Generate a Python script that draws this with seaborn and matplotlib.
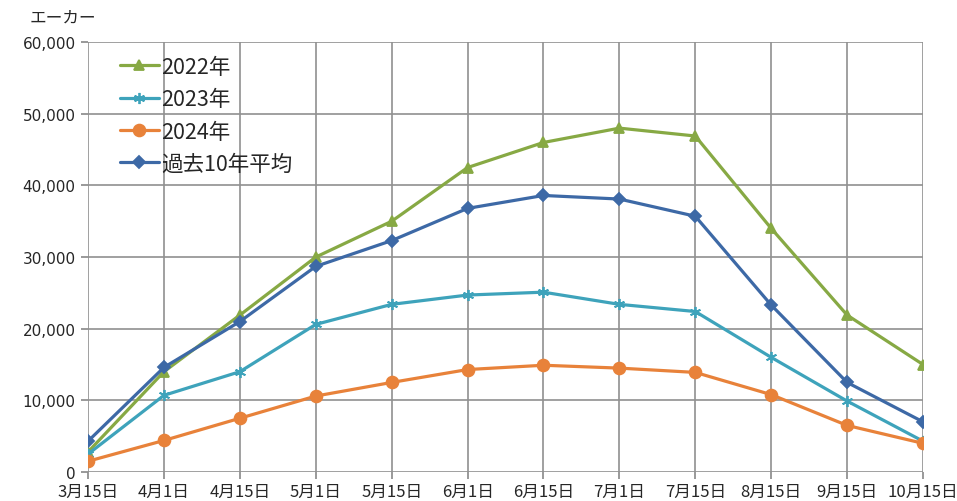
import matplotlib
matplotlib.use("Agg")
import matplotlib.pyplot as plt
import seaborn as sns
import pandas as pd
from matplotlib.ticker import FuncFormatter

dates = ["3月15日", "4月1日", "4月15日", "5月1日", "5月15日", "6月1日",
         "6月15日", "7月1日", "7月15日", "8月15日", "9月15日", "10月15日"]
series_names = ["2022年", "2023年", "2024年", "過去10年平均"]
v2022 = [2800, 14000, 21900, 30000, 35000, 42500, 46000, 48000, 46900, 34000, 21900, 15000]
v2023 = [2500, 10700, 14000, 20600, 23400, 24700, 25100, 23400, 22400, 16000, 9900, 4300]
v2024 = [1500, 4400, 7500, 10600, 12500, 14300, 14900, 14500, 13900, 10800, 6500, 4000]
vavg = [4300, 14600, 21000, 28700, 32300, 36800, 38600, 38100, 35700, 23300, 12500, 7000]
y_ticks = [0, 10000, 20000, 30000, 40000, 50000, 60000]
y_unit = "エーカー"

sns.set_theme(style="white")
plt.rcParams['font.family'] = ['Noto Sans CJK JP', 'DejaVu Sans']

rows = []
for name, vals in zip(series_names, [v2022, v2023, v2024, vavg]):
    for i, v in enumerate(vals):
        rows.append({"pos": i, "value": v, "series": name})
df = pd.DataFrame(rows)

palette = {"2022年": "#87a944", "2023年": "#3ea3bb", "2024年": "#e8823a", "過去10年平均": "#3d69a6"}
markers = {"2022年": "^", "2023年": (6, 2, 0), "2024年": "o", "過去10年平均": "D"}
msize = {"2022年": 7.5, "2023年": 8, "2024年": 8.5, "過去10年平均": 6}

fig = plt.figure(figsize=(9.57, 5.02), dpi=100)
ax = fig.add_axes([0.092, 0.0578, 0.8725, 0.8562])

for name in series_names:
    sub = df[df.series == name]
    sns.lineplot(data=sub, x="pos", y="value", ax=ax, color=palette[name],
                 marker=markers[name], markersize=msize[name], linewidth=2.3,
                 markeredgecolor=palette[name], markeredgewidth=1.3,
                 label=name, zorder=3)

ax.set_xlim(0, len(dates) - 1)
ax.set_ylim(0, 60000)
ax.set_xticks(range(len(dates)))
ax.set_xticklabels(dates, fontsize=12)
ax.set_yticks(y_ticks)
ax.yaxis.set_major_formatter(FuncFormatter(lambda v, p: f"{int(v):,}"))
ax.tick_params(axis="y", labelsize=11, length=5, color="#8c8c8c", pad=4, left=True)
ax.tick_params(axis="x", length=5, color="#8c8c8c", pad=3, bottom=True)
for lab in ax.get_yticklabels():
    lab.set_family(['DejaVu Sans'])
ax.set_xlabel("")
ax.set_ylabel("")
ax.grid(True, color="#909090", linewidth=1.2)
ax.set_axisbelow(True)
for s in ax.spines.values():
    s.set_visible(False)

leg = ax.legend(loc="upper left", bbox_to_anchor=(0.015, 1.013), frameon=False,
                fontsize=15.5, handlelength=1.8, handletextpad=0.1, labelspacing=0.48)

fig.text(30 / 957, 1 - 18 / 502, y_unit, fontsize=12, va="center", ha="left")

fig.savefig("out.png", dpi=100)
